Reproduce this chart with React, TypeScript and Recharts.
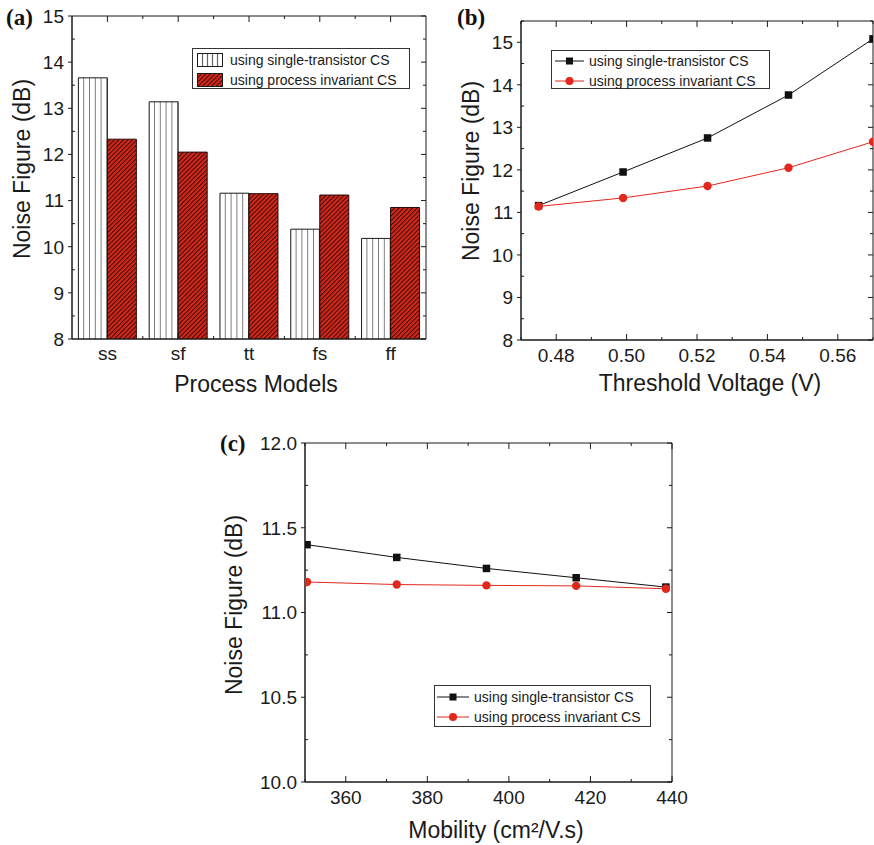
import React from "react";
import { Bar, BarChart, Legend, Line, LineChart, ReferenceArea, XAxis, YAxis } from "recharts";

// (a) noise figure per process corner
const models = ["ss", "sf", "tt", "fs", "ff"];
const nfSingleByModel = [13.66, 13.14, 11.16, 10.38, 10.18];
const nfInvariantByModel = [12.33, 12.05, 11.15, 11.12, 10.85];

// (b) noise figure vs threshold voltage
const vth = [0.475, 0.499, 0.523, 0.546, 0.57];
const nfSingleByVth = [11.16, 11.95, 12.75, 13.76, 15.08];
const nfInvariantByVth = [11.14, 11.34, 11.62, 12.05, 12.66];

// (c) noise figure vs mobility
const mobility = [350.5, 372.5, 394.5, 416.5, 438.5];
const nfSingleByMob = [11.4, 11.325, 11.26, 11.205, 11.15];
const nfInvariantByMob = [11.18, 11.165, 11.16, 11.157, 11.14];

const aYMajor = [8, 9, 10, 11, 12, 13, 14, 15];
const aYMinor = [8.5, 9.5, 10.5, 11.5, 12.5, 13.5, 14.5];
const bYMajor = [8, 9, 10, 11, 12, 13, 14, 15];
const bYMinor = [8.5, 9.5, 10.5, 11.5, 12.5, 13.5, 14.5, 15.5];
const bXMajor = [0.48, 0.5, 0.52, 0.54, 0.56];
const bXMinor = [0.47, 0.49, 0.51, 0.53, 0.55, 0.57];
const cYMajor = [10, 10.5, 11, 11.5, 12];
const cYMinor = [10.25, 10.75, 11.25, 11.75];
const cXMajor = [360, 380, 400, 420, 440];
const cXMinor = [350, 370, 390, 410, 430];

const LEGEND_SINGLE = "using single-transistor CS";
const LEGEND_INVARIANT = "using process invariant CS";

const FONT = "'Liberation Sans', Arial, Helvetica, sans-serif";
const SERIF = "'Liberation Serif', 'Times New Roman', serif";
const INK = "#1a1a1a";
const RED = "#e2281e";

const aData = models.map((m, i) => ({ model: m, single: nfSingleByModel[i], inv: nfInvariantByModel[i] }));
const bData = vth.map((v, i) => ({ v, single: nfSingleByVth[i], inv: nfInvariantByVth[i] }));
const cData = mobility.map((v, i) => ({ v, single: nfSingleByMob[i], inv: nfInvariantByMob[i] }));

type Box = { left: number; right: number; top: number; bottom: number };

const isMajor = (majors: number[], v: number) => majors.some((m) => Math.abs(m - v) < 1e-9);

// left ticks (major out, minor in) + mirrored inward ticks on the right edge
function leftTick(box: Box, majors: number[], fmt: (v: number) => string) {
  return (p: any) => {
    const v = p.payload.value;
    const y = p.y;
    const major = isMajor(majors, v);
    return (
      <g>
        {major ? (
          <line x1={box.left - 4} x2={box.left} y1={y} y2={y} stroke={INK} />
        ) : (
          <line x1={box.left} x2={box.left + 3} y1={y} y2={y} stroke={INK} />
        )}
        <line x1={box.right - (major ? 5 : 3)} x2={box.right} y1={y} y2={y} stroke={INK} />
        {major && (
          <text x={box.left - 8} y={y} dy="0.36em" textAnchor="end" fontSize={19} fontFamily={FONT} fill={INK}>
            {fmt(v)}
          </text>
        )}
      </g>
    );
  };
}

// bottom ticks inward + mirrored inward ticks on the top edge
function bottomTick(box: Box, majors: number[], fmt: (v: number) => string) {
  return (p: any) => {
    const v = p.payload.value;
    const x = p.x;
    const major = isMajor(majors, v);
    const len = major ? 6 : 3;
    return (
      <g>
        <line x1={x} x2={x} y1={box.bottom - len} y2={box.bottom} stroke={INK} />
        <line x1={x} x2={x} y1={box.top} y2={box.top + len} stroke={INK} />
        {major && (
          <text x={x} y={box.bottom + 22} textAnchor="middle" fontSize={19} fontFamily={FONT} fill={INK}>
            {fmt(v)}
          </text>
        )}
      </g>
    );
  };
}

// category ticks for the bar chart: major at centres, minor at band edges
function catTick(box: Box, band: number) {
  return (p: any) => {
    const x = p.x;
    const last = p.index === models.length - 1;
    const xm = x + band / 2;
    return (
      <g>
        <line x1={x} x2={x} y1={box.bottom} y2={box.bottom - 6} stroke={INK} />
        <line x1={x} x2={x} y1={box.top} y2={box.top + 6} stroke={INK} />
        {!last && <line x1={xm} x2={xm} y1={box.bottom} y2={box.bottom - 3} stroke={INK} />}
        {!last && <line x1={xm} x2={xm} y1={box.top} y2={box.top + 3} stroke={INK} />}
        <text x={x} y={box.bottom + 21} textAnchor="middle" fontSize={19} fontFamily={FONT} fill={INK}>
          {p.payload.value}
        </text>
      </g>
    );
  };
}

const vTitle = (x: number, y: number, text: React.ReactNode) => () => (
  <text x={x} y={y} transform={`rotate(-90 ${x} ${y})`} textAnchor="middle" dominantBaseline="central" fontSize={23} fontFamily={FONT} fill={INK}>
    {text}
  </text>
);

const hTitle = (x: number, y: number, text: React.ReactNode) => () => (
  <text x={x} y={y} textAnchor="middle" fontSize={23} fontFamily={FONT} fill={INK}>
    {text}
  </text>
);

function PanelLetter({ x, y, text }: { x: number; y: number; text: string }) {
  return (
    <div
      style={{
        position: "absolute",
        left: x,
        top: y,
        fontFamily: SERIF,
        fontWeight: "bold",
        fontSize: 23,
        lineHeight: "23px",
        color: "#111",
      }}
    >
      {text}
    </div>
  );
}

const SquareDot = (p: any) => {
  if (p.cx == null || p.cy == null) return <g />;
  return <rect x={p.cx - 3.75} y={p.cy - 3.75} width={7.5} height={7.5} fill="#111" />;
};

function StripeSwatch() {
  return (
    <svg width={26} height={14} style={{ display: "block" }}>
      <rect x={0.5} y={0.5} width={25} height={13} fill="#fff" stroke={INK} />
      {[5.5, 10.5, 15.5, 20.5].map((x) => (
        <line key={x} x1={x} x2={x} y1={1} y2={13} stroke="#666" strokeWidth={1.2} />
      ))}
    </svg>
  );
}

function HatchSwatch() {
  return (
    <svg width={26} height={14} style={{ display: "block" }}>
      <defs>
        <pattern id="lgHatch" width={3.2} height={3.2} patternUnits="userSpaceOnUse" patternTransform="rotate(45)">
          <rect width={3.2} height={3.2} fill="#d2281c" />
          <rect width={1} height={3.2} fill="#3a0b08" />
        </pattern>
      </defs>
      <rect x={0.5} y={0.5} width={25} height={13} fill="url(#lgHatch)" stroke={INK} />
    </svg>
  );
}

function LineSwatch({ w, color, square }: { w: number; color: string; square: boolean }) {
  return (
    <svg width={w} height={12} style={{ display: "block" }}>
      <line x1={0} x2={w} y1={6} y2={6} stroke={color} strokeWidth={1} />
      {square ? <rect x={w / 2 - 3.5} y={2.5} width={7} height={7} fill="#111" /> : <circle cx={w / 2} cy={6} r={4} fill={color} />}
    </svg>
  );
}

function LegendBox({
  w,
  h,
  padTop,
  padLeft,
  gap,
  rows,
}: {
  w: number;
  h: number;
  padTop: number;
  padLeft: number;
  gap: number;
  rows: { swatch: React.ReactNode; label: string }[];
}) {
  return (
    <div
      style={{
        boxSizing: "border-box",
        width: w,
        height: h,
        border: "1px solid #333",
        background: "#fff",
        paddingTop: padTop,
        paddingLeft: padLeft,
        fontFamily: FONT,
        fontSize: 14,
        color: INK,
      }}
    >
      {rows.map((r) => (
        <div key={r.label} style={{ display: "flex", alignItems: "center", height: 20, whiteSpace: "nowrap" }}>
          <div style={{ marginRight: gap }}>{r.swatch}</div>
          <span style={{ lineHeight: "20px" }}>{r.label}</span>
        </div>
      ))}
    </div>
  );
}

const aBox: Box = { left: 72, right: 426, top: 16, bottom: 339 };
const bBox: Box = { left: 81, right: 433, top: 21, bottom: 340 };
const cBox: Box = { left: 105, right: 472, top: 43, bottom: 382 };

function PanelA() {
  const band = (aBox.right - aBox.left) / models.length;
  return (
    <BarChart
      width={440}
      height={400}
      data={aData}
      margin={{ top: aBox.top, right: 440 - aBox.right, bottom: 400 - aBox.bottom - 40, left: aBox.left - 40 }}
      barGap={0}
      barCategoryGap="9%"
    >
      <defs>
        <pattern id="aStripe" patternUnits="objectBoundingBox" patternContentUnits="objectBoundingBox" width={0.2} height={1}>
          <rect width={0.2} height={1} fill="#fff" />
          <rect x={0.17} width={0.04} height={1} fill="#6a6a6a" />
        </pattern>
        <pattern id="aHatch" width={3.2} height={3.2} patternUnits="userSpaceOnUse" patternTransform="rotate(45)">
          <rect width={3.2} height={3.2} fill="#d2281c" />
          <rect width={1} height={3.2} fill="#3a0b08" />
        </pattern>
      </defs>
      <XAxis
        xAxisId="b"
        dataKey="model"
        height={40}
        interval={0}
        axisLine={{ stroke: INK }}
        tickLine={false}
        tick={catTick(aBox, band)}
        label={hTitle(256, 392, "Process Models")}
      />
      <YAxis
        yAxisId="l"
        width={40}
        type="number"
        domain={[8, 15]}
        allowDataOverflow
        ticks={[...aYMajor, ...aYMinor]}
        interval={0}
        axisLine={{ stroke: INK }}
        tickLine={false}
        tick={leftTick(aBox, aYMajor, (v) => String(v))}
        label={vTitle(22, 169, "Noise Figure (dB)")}
      />
      <ReferenceArea xAxisId="b" yAxisId="l" y1={8} y2={15} fill="none" fillOpacity={0} stroke={INK} strokeWidth={1} />
      <Bar xAxisId="b" yAxisId="l" dataKey="single" fill="url(#aStripe)" stroke={INK} strokeWidth={1} isAnimationActive={false} />
      <Bar xAxisId="b" yAxisId="l" dataKey="inv" fill="url(#aHatch)" stroke="#2a0a08" strokeWidth={1} isAnimationActive={false} />
      <Legend
        layout="horizontal"
        verticalAlign="middle"
        align="center"
        wrapperStyle={{ left: 192, top: 48, width: "auto", height: "auto" }}
        content={() => (
          <LegendBox
            w={218}
            h={41}
            padTop={1}
            padLeft={4}
            gap={7}
            rows={[
              { swatch: <StripeSwatch />, label: LEGEND_SINGLE },
              { swatch: <HatchSwatch />, label: LEGEND_INVARIANT },
            ]}
          />
        )}
      />
    </BarChart>
  );
}

function LinePanel({
  width,
  height,
  data,
  box,
  xDomain,
  xMajor,
  xMinor,
  xFmt,
  yDomain,
  yMajor,
  yMinor,
  yFmt,
  xTitle,
  yTitle,
  legendPos,
  legendSize,
  sampleW,
}: any) {
  return (
    <LineChart
      width={width}
      height={height}
      data={data}
      margin={{ top: box.top, right: width - box.right, bottom: height - box.bottom - 40, left: box.left - 50 }}
    >
      <XAxis
        xAxisId="b"
        dataKey="v"
        type="number"
        domain={xDomain}
        allowDataOverflow
        ticks={[...xMajor, ...xMinor]}
        interval={0}
        height={40}
        axisLine={{ stroke: INK }}
        tickLine={false}
        tick={bottomTick(box, xMajor, xFmt)}
        label={hTitle(xTitle.x, xTitle.y, xTitle.text)}
      />
      <YAxis
        yAxisId="l"
        width={50}
        type="number"
        domain={yDomain}
        allowDataOverflow
        ticks={[...yMajor, ...yMinor]}
        interval={0}
        axisLine={{ stroke: INK }}
        tickLine={false}
        tick={leftTick(box, yMajor, yFmt)}
        label={vTitle(yTitle.x, yTitle.y, yTitle.text)}
      />
      <ReferenceArea
        xAxisId="b"
        yAxisId="l"
        x1={xDomain[0]}
        x2={xDomain[1]}
        y1={yDomain[0]}
        y2={yDomain[1]}
        fill="none"
        fillOpacity={0}
        stroke={INK}
        strokeWidth={1}
      />
      <Line xAxisId="b" yAxisId="l" dataKey="single" stroke="#111" strokeWidth={1} dot={SquareDot} isAnimationActive={false} />
      <Line
        xAxisId="b"
        yAxisId="l"
        dataKey="inv"
        stroke={RED}
        strokeWidth={1}
        dot={{ r: 4.2, fill: RED, stroke: RED, strokeWidth: 0 }}
        isAnimationActive={false}
      />
      <Legend
        layout="horizontal"
        verticalAlign="middle"
        align="center"
        wrapperStyle={{ left: legendPos.x, top: legendPos.y, width: "auto", height: "auto" }}
        content={() => (
          <LegendBox
            w={legendSize.w}
            h={legendSize.h}
            padTop={legendSize.padTop}
            padLeft={legendSize.padLeft}
            gap={5}
            rows={[
              { swatch: <LineSwatch w={sampleW} color="#111" square />, label: LEGEND_SINGLE },
              { swatch: <LineSwatch w={sampleW} color={RED} square={false} />, label: LEGEND_INVARIANT },
            ]}
          />
        )}
      />
    </LineChart>
  );
}

export default function App() {
  return (
    <div style={{ position: "absolute", left: 0, top: 0, width: 874, height: 845, overflow: "hidden", background: "#fff" }}>
      <div style={{ position: "absolute", left: 0, top: 0 }}>
        <PanelA />
      </div>
      <div style={{ position: "absolute", left: 440, top: 0 }}>
        <LinePanel
          width={434}
          height={400}
          data={bData}
          box={bBox}
          xDomain={[0.47, 0.57]}
          xMajor={bXMajor}
          xMinor={bXMinor}
          xFmt={(v: number) => v.toFixed(2)}
          yDomain={[8, 15.5]}
          yMajor={bYMajor}
          yMinor={bYMinor}
          yFmt={(v: number) => String(v)}
          xTitle={{ x: 270, y: 391, text: "Threshold Voltage (V)" }}
          yTitle={{ x: 31, y: 171, text: "Noise Figure (dB)" }}
          legendPos={{ x: 111, y: 50 }}
          legendSize={{ w: 219, h: 39, padTop: 0, padLeft: 3 }}
          sampleW={29}
        />
      </div>
      <div style={{ position: "absolute", left: 200, top: 400 }}>
        <LinePanel
          width={500}
          height={445}
          data={cData}
          box={cBox}
          xDomain={[350, 440]}
          xMajor={cXMajor}
          xMinor={cXMinor}
          xFmt={(v: number) => String(v)}
          yDomain={[10, 12]}
          yMajor={cYMajor}
          yMinor={cYMinor}
          yFmt={(v: number) => v.toFixed(1)}
          xTitle={{ x: 296, y: 438, text: "Mobility (cm²/V.s)" }}
          yTitle={{ x: 34, y: 205, text: "Noise Figure (dB)" }}
          legendPos={{ x: 234, y: 285 }}
          legendSize={{ w: 217, h: 42, padTop: 1, padLeft: 2 }}
          sampleW={32}
        />
      </div>
      <PanelLetter x={6} y={6} text="(a)" />
      <PanelLetter x={457} y={6} text="(b)" />
      <PanelLetter x={220} y={432} text="(c)" />
    </div>
  );
}
